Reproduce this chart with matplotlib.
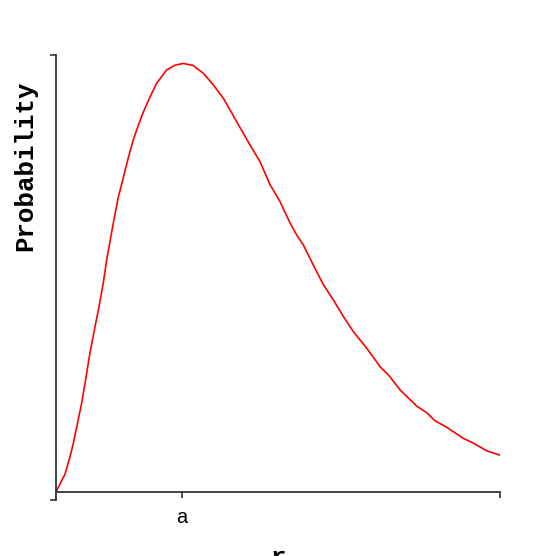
import matplotlib
matplotlib.use("Agg")
import matplotlib.pyplot as plt

# radius in units of a, probability normalised to peak
r_vals = [0.0, 0.072, 0.111, 0.138, 0.165, 0.204, 0.231, 0.270, 0.310, 0.337,
          0.376, 0.403, 0.456, 0.496, 0.535, 0.575, 0.615, 0.655, 0.695, 0.748,
          0.801, 0.881, 0.947, 1.013, 1.092, 1.172, 1.251, 1.331, 1.438, 1.543,
          1.623, 1.703, 1.782, 1.862, 1.915, 1.967, 2.047, 2.127, 2.206, 2.286,
          2.365, 2.472, 2.578, 2.644, 2.737, 2.870, 2.949, 3.015, 3.108, 3.240,
          3.320, 3.426, 3.532]
prob_vals = [0.0, 0.042, 0.082, 0.114, 0.152, 0.207, 0.254, 0.324, 0.385, 0.424,
             0.487, 0.541, 0.627, 0.688, 0.732, 0.779, 0.821, 0.855, 0.886, 0.921,
             0.953, 0.984, 0.995, 0.999, 0.994, 0.976, 0.949, 0.918, 0.863, 0.809,
             0.770, 0.716, 0.677, 0.627, 0.599, 0.576, 0.529, 0.483, 0.448, 0.409,
             0.374, 0.335, 0.292, 0.273, 0.238, 0.200, 0.185, 0.166, 0.151, 0.125,
             0.114, 0.096, 0.086]
x_ticks = [1.0, 3.532]
x_tick_labels = ["a", ""]

W = 556
fig = plt.figure(figsize=(5.56, 5.56), dpi=100)
ax = fig.add_axes([56 / W, 1 - 500 / W, 444 / W, 445 / W])

ax.plot(r_vals, prob_vals, color="#ff0000", lw=1.2)

ax.set_xlim(0, 3.532)
ax.set_ylim(-8 / 429, 437 / 429)

for s in ("top", "right"):
    ax.spines[s].set_visible(False)
ax.spines["bottom"].set_position(("data", 0))
for s in ("left", "bottom"):
    ax.spines[s].set_color("#333333")
    ax.spines[s].set_linewidth(1.3)

ax.set_xticks(x_ticks)
ax.set_xticklabels(x_tick_labels, fontfamily="Liberation Sans", fontsize=14.5)
ax.set_yticks([-8 / 429, 437 / 429])
ax.set_yticklabels(["", ""])
ax.tick_params(axis="both", direction="out", length=4.5, width=1.2, color="#333333")
ax.tick_params(axis="x", pad=7)

fig.text(278 / W, 1 - 546 / W, "r", ha="center", va="top",
         fontfamily="Liberation Mono", fontweight="bold", fontsize=18.5)
fig.text(25 / W, 1 - 166 / W, "Probability", ha="center", va="center", rotation=90,
         fontfamily="Liberation Mono", fontweight="bold", fontsize=18.5)

fig.savefig("out.png", dpi=100)
